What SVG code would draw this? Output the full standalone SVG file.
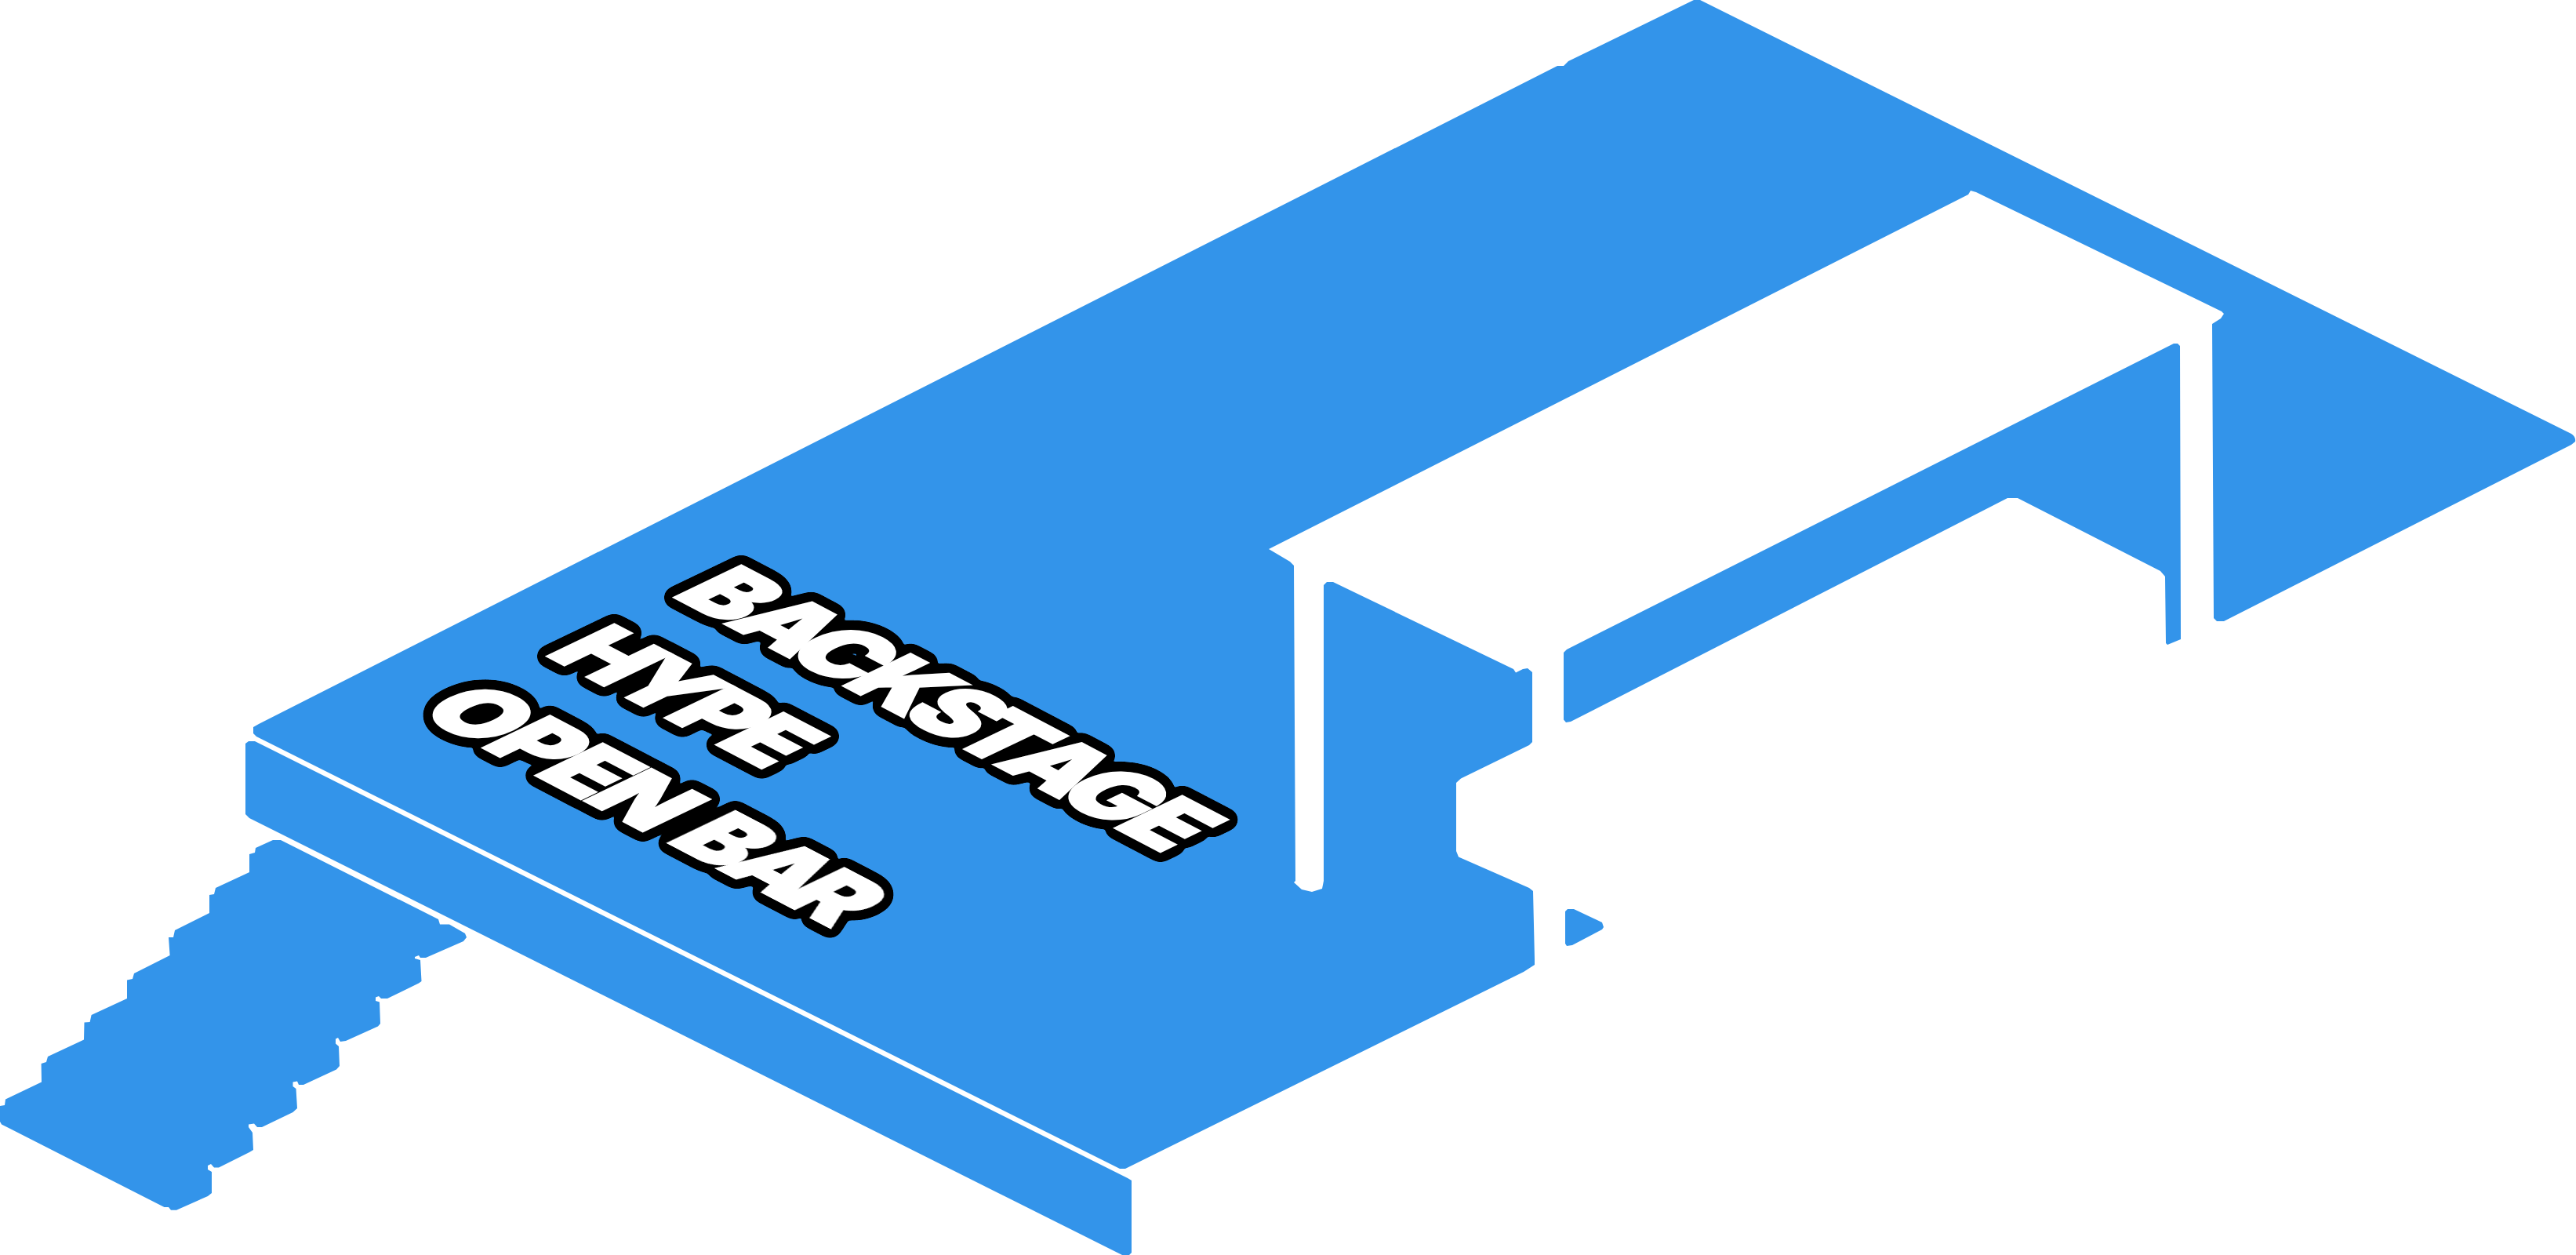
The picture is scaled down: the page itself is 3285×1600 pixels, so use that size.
<svg xmlns="http://www.w3.org/2000/svg" width="3285" height="1600" viewBox="0 0 3285 1600">
<style>
.b{fill:#3394ea}
text{font-family:"Inter","Liberation Sans",sans-serif;font-weight:900;font-size:100px;fill:#fff;stroke:#fff;stroke-width:3px;letter-spacing:-8px}
</style>
<defs>
<filter id="halo" filterUnits="userSpaceOnUse" x="480" y="640" width="1150" height="580" color-interpolation-filters="sRGB">
<feGaussianBlur in="SourceAlpha" stdDeviation="2.45"/><feComponentTransfer><feFuncA type="linear" slope="30" intercept="-0.9"/></feComponentTransfer>
<feGaussianBlur stdDeviation="2.45"/><feComponentTransfer><feFuncA type="linear" slope="30" intercept="-0.9"/></feComponentTransfer>
<feGaussianBlur stdDeviation="2.45"/><feComponentTransfer><feFuncA type="linear" slope="30" intercept="-0.9"/></feComponentTransfer>
<feMerge><feMergeNode/><feMergeNode in="SourceGraphic"/></feMerge>
</filter>
</defs>
<rect x="0" y="0" width="3285" height="1600" fill="#fff"/>
<g id="floor"><path class="b" d="M2160 0H2168L3279 553Q3285 557 3284 563L3279 567L2836 792H2827L2823 788L2821 413L2832 406L2836 400L2833 397L2520 245L2513 243L2510 248L1618 700L1645 716L1650 721L1652 1123L1650 1125L1660 1134L1673 1137L1686 1133L1688 1123V746L1692 742H1700L1930 853L1933 857.5L1942 853L1948 852L1954 857V946L1950 950L1863 992.5L1857 998V1085L1860 1092.5L1950 1132L1955 1136L1957 1223V1230L1943 1239L1435 1490H1428L327 939L323 935V927L330 923L1986 84H1994L2000 78Z"/></g>
<g id="front-strip"><path class="b" d="M313 948L317 945H325L1438 1502L1443 1505V1597L1440 1600H1431L318 1043L313 1038Z"/></g>
<g id="stairs"><path class="b" d="M348 1071H358L559 1172L561 1178.5H573L593 1190L595 1195L591 1200L543 1221H536L534 1218L529 1220V1222L536 1224L537.5 1251L534 1253.5L494 1273H486L483 1270L479 1271.5V1276L484 1277.5L485 1305L482 1308.6L441 1327L434 1328L431 1323L428 1324.5V1330.5L432 1334L433 1359L429 1363.6L387 1383H381L379 1378.5L373.5 1379.5V1385L377.5 1388L379 1413L373.5 1418L334 1437H328L324 1432.6L317 1433.6V1437L322 1444L323 1466L318 1469L279 1488.6H273L269 1484L265 1486V1491L270 1494V1521L265 1525L225 1542.7H218L215 1539H209.5L12 1438.6L2 1433.6L0 1430V1410L6 1409L7 1401.5L53 1379.5L52.6 1356L59 1354L61 1347L107 1325.5L107.5 1303.5L114.6 1303L116.6 1294L162 1273V1249.5L169 1248L171 1241L216.6 1218L215 1195L221 1195L223 1186L267 1164V1141L273 1140L275 1132L318 1112V1089L325 1087L326 1081Z"/></g>
<g id="upper-panel"><path class="b" d="M1994 832L1998 828L2772 438H2777L2780 441L2781 815L2764 822L2762 820L2761 735L2755 728L2573 635H2560L2003 920L1997 921L1994 917.5Z"/></g>
<g id="triangle"><path class="b" d="M1996 1162L1999 1159H2007L2043 1176L2045 1182L2043 1185L2005 1205L1998 1206L1996 1203Z"/></g>
<g filter="url(#halo)">
<g id="label-backstage"><text transform="matrix(1.1 .575 -1.17 .56 855 759)" dx="0 2 0 2 -1 -4 5 1 3">BACKSTAGE</text></g>
<g id="label-hype"><text transform="matrix(1.1 .575 -1.17 .56 693 834)" dx="0 0 0 2">HYPE</text></g>
<g id="label-open"><text transform="matrix(1.1 .575 -1.17 .56 529 908)" dx="0 5 3.5 3">OPEN</text></g>
<g id="label-bar"><text transform="matrix(1.1 .575 -1.17 .56 848 1072)" dx="0 0 -4">BAR</text></g>
</g>
</svg>
